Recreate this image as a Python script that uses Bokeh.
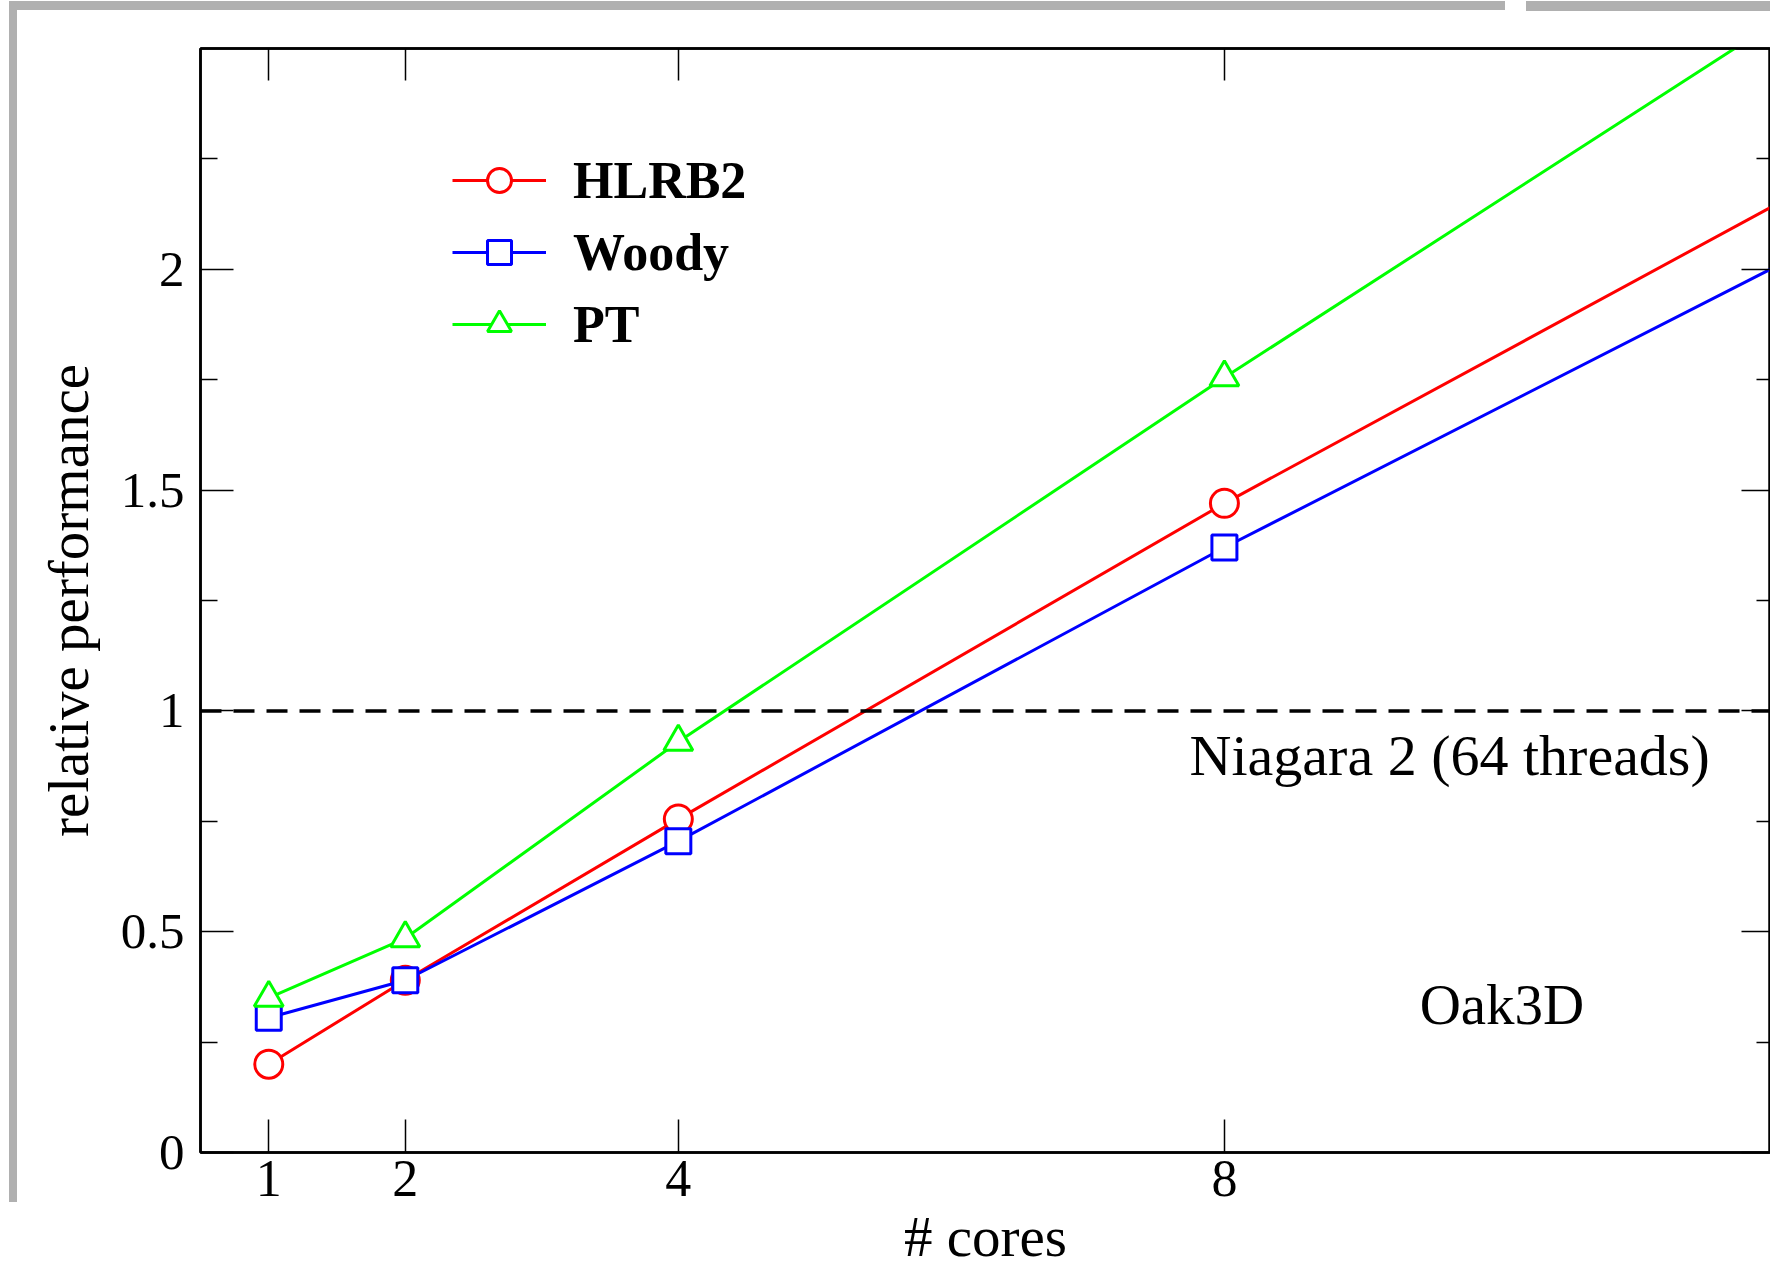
from bokeh.plotting import figure
from bokeh.models import Range1d, LinearAxis, FixedTicker, Span, Label, Legend, LegendItem
from bokeh.embed import file_html
from bokeh.resources import INLINE

# ---- data ----
cores = [1, 2, 4, 8, 16]
hlrb2 = [0.20, 0.39, 0.755, 1.47, 2.81]
woody = [0.305, 0.39, 0.705, 1.37, 2.63]
pt = [0.35, 0.485, 0.93, 1.755, 3.35]

x_ticks = [1, 2, 4, 8]
y_ticks = [0, 0.5, 1, 1.5, 2]
y_minor = [0.25, 0.75, 1.25, 1.75, 2.25]
y_tick_labels = ["0", "0.5", "1", "1.5", "2"]
ref_level = 1.0

FONT = "Liberation Serif"
GRAY = "#b0b0b0"

p = figure(width=1770, height=1270,
           x_range=Range1d(0.5, 12.0), y_range=Range1d(0, 2.5),
           output_backend="svg", toolbar_location=None,
           min_border_left=200, min_border_top=48, min_border_right=0,
           min_border_bottom=116,
           x_axis_label="# cores", y_axis_label="relative performance")
p.grid.visible = False
p.background_fill_color = "white"
p.border_fill_color = None
p.outline_line_color = "black"
p.outline_line_width = 2.5

# slide frame decoration (gray bars at the page edge)
grad = f"linear-gradient({GRAY}, {GRAY})"
p.styles = {
    "background-color": "white",
    "background-image": ", ".join([grad, grad, grad]),
    "background-position": "9px 1px, 9px 1px, 1526px 1px",
    "background-size": "1496px 9px, 8px 1201px, 244px 10px",
    "background-repeat": "no-repeat",
}

# bottom axis
xa = p.xaxis[0]
xa.ticker = FixedTicker(ticks=x_ticks, minor_ticks=[])
xa.major_tick_in = 33
xa.major_tick_out = 0
xa.minor_tick_in = 0
xa.minor_tick_out = 0
xa.major_label_standoff = 8
xa.axis_label_standoff = 6
xa.major_label_text_font = FONT
xa.major_label_text_font_size = "52px"
xa.major_label_text_color = "black"
xa.axis_label_text_font = FONT
xa.axis_label_text_font_size = "57px"
xa.axis_label_text_font_style = "normal"
xa.axis_label_text_color = "black"
xa.axis_line_width = 2.5
xa.major_tick_line_width = 1.5

# left axis
ya = p.yaxis[0]
ya.ticker = FixedTicker(ticks=y_ticks, minor_ticks=y_minor)
ya.major_label_overrides = {t: s for t, s in zip(y_ticks, y_tick_labels)}
ya.major_tick_in = 33
ya.major_tick_out = 0
ya.minor_tick_in = 17
ya.minor_tick_out = 0
ya.major_label_standoff = 16
ya.axis_label_standoff = 18
ya.major_label_text_font = FONT
ya.major_label_text_font_size = "51px"
ya.major_label_text_color = "black"
ya.axis_label_text_font = FONT
ya.axis_label_text_font_size = "57px"
ya.axis_label_text_font_style = "normal"
ya.axis_label_text_color = "black"
ya.axis_line_width = 2.5
ya.major_tick_line_width = 1.5
ya.minor_tick_line_width = 1.5

# mirror axes (ticks only, no labels)
ra = LinearAxis(ticker=FixedTicker(ticks=y_ticks, minor_ticks=y_minor),
                major_tick_in=29, major_tick_out=0, minor_tick_in=14, minor_tick_out=0,
                major_label_text_font_size="0px", major_label_text_color=None,
                major_label_standoff=0,
                axis_line_width=2.5, major_tick_line_width=1.5, minor_tick_line_width=1.5)
p.add_layout(ra, "right")
ta = LinearAxis(ticker=FixedTicker(ticks=x_ticks, minor_ticks=[]),
                major_tick_in=32, major_tick_out=0, minor_tick_in=0, minor_tick_out=0,
                major_label_text_font_size="0px", major_label_text_color=None,
                major_label_standoff=0,
                axis_line_width=2.5, major_tick_line_width=1.5)
p.add_layout(ta, "above")

# reference line
p.add_layout(Span(location=ref_level, dimension="width", line_color="black",
                  line_dash="21 12", line_width=3.5))

series = [("HLRB2", hlrb2, "#ff0000", "circle", 28),
          ("Woody", woody, "#0000ff", "square", 25),
          ("PT", pt, "#00ff00", "triangle", 29)]
items = []
for name, ys, col, marker, sz in series:
    l = p.line(cores, ys, line_color=col, line_width=3)
    s = p.scatter(cores, ys, marker=marker, size=sz, fill_color="white",
                  line_color=col, line_width=3)
    items.append(LegendItem(label=name, renderers=[l, s]))

legend = Legend(items=items, location=(252, 798), padding=0, margin=0,
                glyph_width=94, glyph_height=60, label_height=60, label_standoff=27,
                spacing=12, border_line_color=None, background_fill_alpha=0,
                label_text_font=FONT, label_text_font_size="52px",
                label_text_font_style="bold", label_text_color="black")
p.add_layout(legend)

p.add_layout(Label(x=7.745, y=0.90, text="Niagara 2 (64 threads)", text_font=FONT,
                   text_font_size="58px", text_baseline="middle", text_color="black"))
p.add_layout(Label(x=9.43, y=0.336, text="Oak3D", text_font=FONT,
                   text_font_size="57px", text_baseline="middle", text_color="black"))

open("out.html", "w").write(file_html(p, INLINE))
